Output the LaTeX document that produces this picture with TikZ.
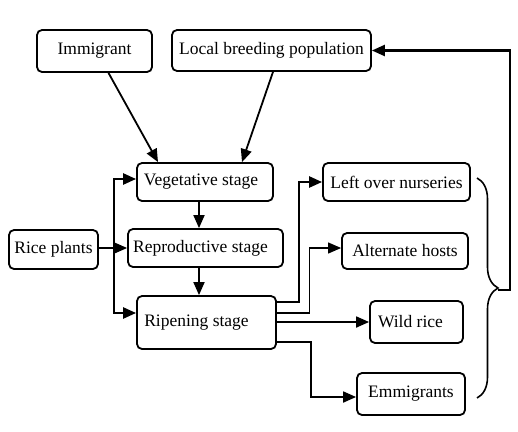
\documentclass[tikz,border=0pt]{standalone}
\usepackage{fontspec}
\setmainfont{Liberation Serif}
\usetikzlibrary{arrows.meta,decorations.pathreplacing}
\begin{document}
\begin{tikzpicture}[x=1pt,y=-1pt,
  box/.style={draw, rounded corners=5pt, line width=1.8pt, inner sep=0pt, font=\fontsize{17.5}{19}\selectfont},
  arr/.style={-{Triangle[length=13pt,width=11pt]}, line width=1.8pt},
  thickarr/.style={arr, line width=2.4pt},
  thinarr/.style={arr, line width=1.1pt}]
\useasboundingbox (0,0) rectangle (518,431);
\node[box, minimum width=115pt, minimum height=42pt] (imm) at (94.5,51) {\raisebox{-1pt}{Immigrant}};
\node[box, minimum width=199pt, minimum height=41pt] (lbp) at (271.5,50.5) {\raisebox{-1pt}{Local breeding population}};
\node[box, minimum width=136pt, minimum height=38pt] (veg) at (205,182) {\hspace*{-8pt}Vegetative stage};
\node[box, minimum width=155pt, minimum height=38pt] (rep) at (205.5,248) {\hspace*{-10pt}Reproductive stage};
\node[box, minimum width=89pt, minimum height=39pt] (rice) at (53.5,249.5) {Rice plants};
\node[box, minimum width=139pt, minimum height=53pt] (rip) at (206.5,322.5) {\raisebox{-3pt}{\hspace*{-20pt}Ripening stage}};
\node[box, minimum width=147pt, minimum height=38pt] (lon) at (396.5,182) {Left over nurseries};
\node[box, minimum width=126pt, minimum height=36pt] (ah) at (405,251) {Alternate hosts};
\node[box, minimum width=93pt, minimum height=42pt] (wr) at (416.5,322) {\hspace*{-12pt}Wild rice};
\node[box, minimum width=108pt, minimum height=42pt] (em) at (411,394) {Emmigrants};

\draw[arr] ([xshift=14pt]imm.south) -- ([xshift=-47pt]veg.north);
\draw[arr] ([xshift=1.5pt]lbp.south) -- ([xshift=37pt]veg.north);
\draw[arr] ([xshift=-6pt]veg.south) -- ([xshift=-6pt]veg.south |- rep.north);
\draw[arr] ([xshift=-6.5pt]rep.south) -- ([xshift=-6.5pt]rep.south |- rip.north);

\coordinate (j) at (114,248);
\draw[arr, line width=1.4pt] (rice.east |- j) -- (rep.west |- j);
\draw[thickarr] (j) |- ([yshift=3pt]veg.west);
\draw[thickarr] (j) |- ([yshift=9.5pt]rip.west);

\draw[thickarr] ([yshift=20.5pt]rip.east) -- ++(22,0) |- (lon.west);
\draw[thinarr] ([yshift=9.5pt]rip.east) -- ++(33,0) |- ([yshift=3pt]ah.west);
\draw[arr] (rip.east |- wr.west) -- (wr.west);
\draw[arr] ([yshift=-19.5pt]rip.east) -- ++(34,0) |- ([yshift=-3pt]em.west);

\draw[line width=1.6pt, decorate, decoration={brace, amplitude=21pt}] (477,178) -- (477,398);
\coordinate (bt) at (498,290);
\draw[thickarr] (bt) -- (510,290) |- (lbp.east);
\end{tikzpicture}
\end{document}
